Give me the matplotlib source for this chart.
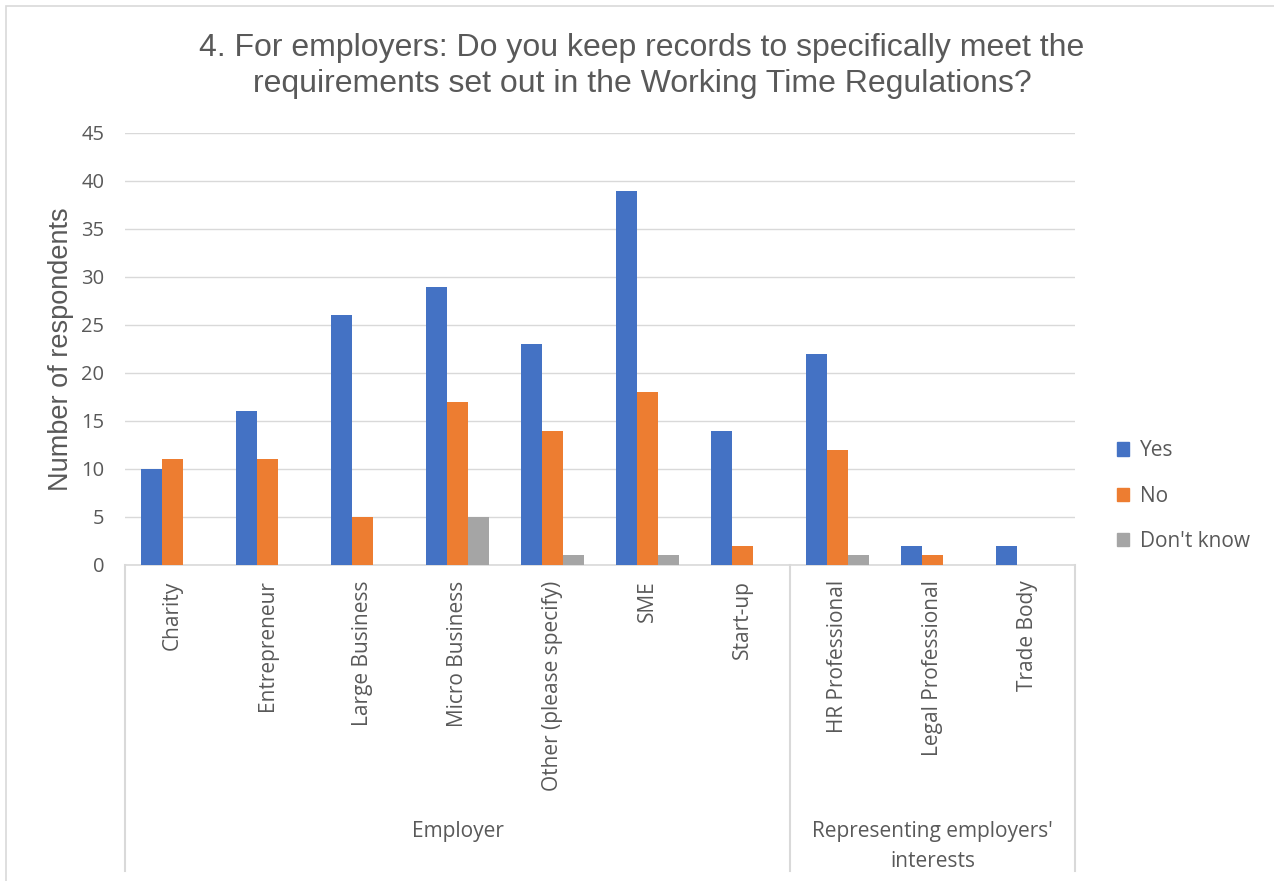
import numpy as np
import matplotlib.pyplot as plt
from matplotlib.patches import Patch

# Survey answers per respondent type
categories = ["Charity", "Entrepreneur", "Large Business", "Micro Business",
              "Other (please specify)", "SME", "Start-up",
              "HR Professional", "Legal Professional", "Trade Body"]
groups = ["Employer", "Representing employers'\ninterests"]
group_sizes = [7, 3]
yes = [10, 16, 26, 29, 23, 39, 14, 22, 2, 2]
no = [11, 11, 5, 17, 14, 18, 2, 12, 1, 0]
dont_know = [0, 0, 0, 5, 1, 1, 0, 1, 0, 0]
series_names = ["Yes", "No", "Don't know"]
colors = ["#4472C4", "#ED7D31", "#A5A5A5"]

text_col = "#595959"
line_col = "#D9D9D9"

fig = plt.figure(figsize=(12.74, 8.81), dpi=100)
ax = fig.add_axes([125 / 1274, 1 - 565 / 881, 950 / 1274, 432 / 881])

x = np.arange(len(categories))
w = 0.22
for i, (vals, c) in enumerate(zip([yes, no, dont_know], colors)):
    ax.bar(x + (i - 1) * w, vals, width=w, color=c, zorder=3)

ax.set_xlim(-0.5, len(categories) - 0.5)
ax.set_ylim(0, 45)
ax.set_yticks(range(0, 46, 5))
ax.yaxis.grid(True, color=line_col, linewidth=1, zorder=0)
for s in ["left", "right", "top"]:
    ax.spines[s].set_visible(False)
ax.spines["bottom"].set_color(line_col)
ax.spines["bottom"].set_linewidth(1.2)
ax.tick_params(axis="both", length=0, colors=text_col)
ax.tick_params(axis="y", pad=15, labelsize=14.5, labelfontfamily="Open Sans")

ax.set_xticks(x)
ax.set_xticklabels(categories, rotation=90, fontsize=15, family="Open Sans",
                   color=text_col, va="top")
ax.tick_params(axis="x", pad=11)

# group separators and group labels below the category labels
trans = ax.get_xaxis_transform()
bounds = np.concatenate([[0], np.cumsum(group_sizes)]) - 0.5
for b in bounds:
    ax.plot([b, b], [0, -0.708], transform=trans, color=line_col,
            linewidth=1.5, clip_on=False)
for g, lo, hi in zip(groups, bounds[:-1], bounds[1:]):
    ax.text((lo + hi) / 2, -0.592, g, transform=trans, ha="center", va="top",
            fontsize=15, family="Open Sans", color=text_col, linespacing=1.55)

ax.set_ylabel("Number of respondents", fontsize=19.5, family="Liberation Sans",
              color=text_col, labelpad=5)

fig.text(642 / 1274, 0.962,
         "4. For employers: Do you keep records to specifically meet the\n"
         "requirements set out in the Working Time Regulations?",
         ha="center", va="top", fontsize=23, family="Liberation Sans",
         color=text_col, linespacing=1.25)

handles = [Patch(color=c) for c in colors]
leg = fig.legend(handles, series_names, loc="center left",
                 bbox_to_anchor=(1098 / 1274, 1 - 496 / 881), frameon=False,
                 handlelength=0.6, handleheight=0.6, handletextpad=0.5,
                 labelspacing=1.16, prop={"family": "Open Sans", "size": 15})
for t in leg.get_texts():
    t.set_color(text_col)

# light outer border
fig.patches.append(plt.Rectangle((6 / 1274, -0.1), 1.2, 1 - 6 / 881 + 0.1,
                                 transform=fig.transFigure, fill=False,
                                 edgecolor=line_col, linewidth=1.2))

fig.savefig("out.png", dpi=100)
